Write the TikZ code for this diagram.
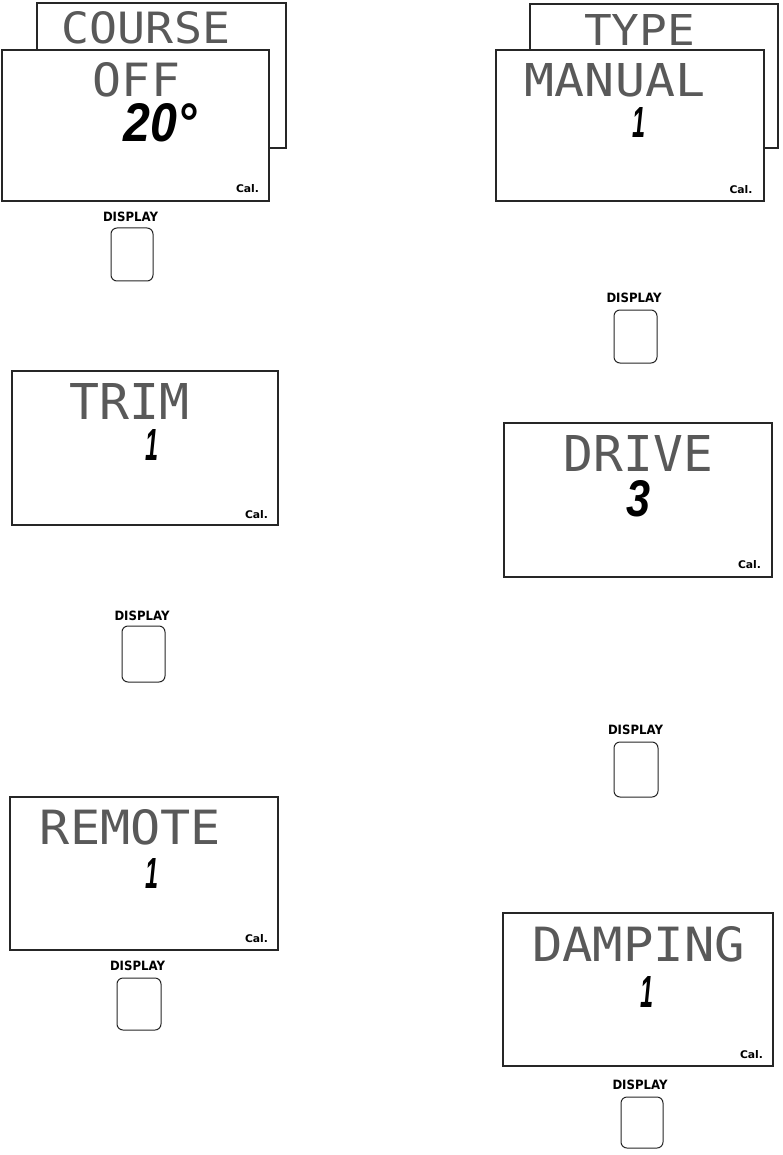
\documentclass[tikz,border=0pt]{standalone}
\usepackage{fontspec}
\usepackage{graphicx}
\setmainfont{Liberation Sans}
\newfontfamily\lcdfont{DejaVu Sans Mono}
\newfontfamily\segfont{Liberation Sans}
\newfontfamily\labfont{DejaVu Sans}
\newcommand{\rsz}[3]{\resizebox{#1pt}{#2pt}{#3}}
\tikzset{
  panel/.style={draw=black!85, line width=1.2pt, fill=white, inner sep=0pt},
  lcd/.style={inner sep=0pt, text=black!65},
  seg/.style={inner sep=0pt, text=black},
  cal/.style={inner sep=0pt, text=black},
  lbl/.style={inner sep=0pt, text=black},
  btn/.style={draw=black!85, line width=1pt, rounded corners=6pt, inner sep=0pt}
}
\begin{document}
\begin{tikzpicture}[x=1pt,y=-1pt]
\fill[white] (0,0) rectangle (782,1155);
\useasboundingbox (0,0) rectangle (782,1155);

% ---------- COURSE / OFF 20 ----------
\node[panel, minimum width=249pt, minimum height=145pt] (courseback) at (161.5,75.5) {};
\node[lcd] (course) at (146,28) {\rsz{168}{32}{\lcdfont COURSE}};
\node[panel, minimum width=267pt, minimum height=151pt] (coursefront) at (135.5,125.5) {};
\node[lcd] (off) at (136.5,79.5) {\rsz{87}{34}{\lcdfont OFF}};
\node[seg] (twenty) at (160.5,123) {\rsz{73}{38}{\segfont\bfseries\itshape 20°}};
\node[cal] (cal1) at (247.5,188.5) {\rsz{23}{8}{\labfont\bfseries Cal.}};
\node[lbl] (disp1) at (130.5,216.5) {\rsz{55}{9.5}{\labfont\bfseries DISPLAY}};
\node[btn, minimum width=42pt, minimum height=53pt] (btn1) at (132,254.5) {};

% ---------- TYPE / MANUAL 1 ----------
\node[panel, minimum width=248pt, minimum height=144pt] (typeback) at (654,76) {};
\node[lcd] (type) at (639.5,30.5) {\rsz{111}{31}{\lcdfont TYPE}};
\node[panel, minimum width=268pt, minimum height=151pt] (typefront) at (630,125.5) {};
\node[lcd] (manual) at (615,80.5) {\rsz{180}{33}{\lcdfont MANUAL}};
\node[seg] (manualval) at (638.5,123) {\rsz{13}{30}{\segfont\bfseries\itshape 1}};
\node[cal] (cal2) at (741,190) {\rsz{23}{8}{\labfont\bfseries Cal.}};
\node[lbl] (disp2) at (634,298) {\rsz{55}{9.5}{\labfont\bfseries DISPLAY}};
\node[btn, minimum width=43pt, minimum height=53pt] (btn2) at (635.5,336.5) {};

% ---------- TRIM 1 ----------
\node[panel, minimum width=266pt, minimum height=154pt] (trimpanel) at (145,448) {};
\node[lcd] (trim) at (130,401) {\rsz{120}{36}{\lcdfont TRIM}};
\node[seg] (trimval) at (152,445) {\rsz{13}{31}{\segfont\bfseries\itshape 1}};
\node[cal] (cal3) at (256.5,514.5) {\rsz{23}{8}{\labfont\bfseries Cal.}};
\node[lbl] (disp3) at (142,616) {\rsz{55}{9.5}{\labfont\bfseries DISPLAY}};
\node[btn, minimum width=43pt, minimum height=56pt] (btn3) at (143.5,654) {};

% ---------- DRIVE 3 ----------
\node[panel, minimum width=268pt, minimum height=154pt] (drivepanel) at (638,500) {};
\node[lcd] (drive) at (638.5,453.5) {\rsz{149}{36}{\lcdfont DRIVE}};
\node[seg] (driveval) at (638.5,499) {\rsz{24}{36}{\segfont\bfseries\itshape 3}};
\node[cal] (cal4) at (749.5,564.5) {\rsz{23}{8}{\labfont\bfseries Cal.}};
\node[lbl] (disp4) at (635.5,730) {\rsz{55}{9.5}{\labfont\bfseries DISPLAY}};
\node[btn, minimum width=44pt, minimum height=55pt] (btn4) at (636,769.5) {};

% ---------- REMOTE 1 ----------
\node[panel, minimum width=268pt, minimum height=153pt] (remotepanel) at (144,873.5) {};
\node[lcd] (remote) at (130.5,827.5) {\rsz{181}{35}{\lcdfont REMOTE}};
\node[seg] (remoteval) at (151.5,873) {\rsz{13}{30}{\segfont\bfseries\itshape 1}};
\node[cal] (cal5) at (256.5,938.5) {\rsz{23}{8}{\labfont\bfseries Cal.}};
\node[lbl] (disp5) at (137.5,966) {\rsz{55}{9.5}{\labfont\bfseries DISPLAY}};
\node[btn, minimum width=44pt, minimum height=52pt] (btn5) at (139,1004) {};

% ---------- DAMPING 1 ----------
\node[panel, minimum width=270pt, minimum height=153pt] (dampingpanel) at (638,989.5) {};
\node[lcd] (damping) at (638.5,944.5) {\rsz{213}{35}{\lcdfont DAMPING}};
\node[seg] (dampingval) at (646.5,991.5) {\rsz{13}{31}{\segfont\bfseries\itshape 1}};
\node[cal] (cal6) at (751.5,1055) {\rsz{23}{8}{\labfont\bfseries Cal.}};
\node[lbl] (disp6) at (640,1085) {\rsz{55}{9.5}{\labfont\bfseries DISPLAY}};
\node[btn, minimum width=42pt, minimum height=51pt] (btn6) at (642,1122.5) {};
\end{tikzpicture}
\end{document}
